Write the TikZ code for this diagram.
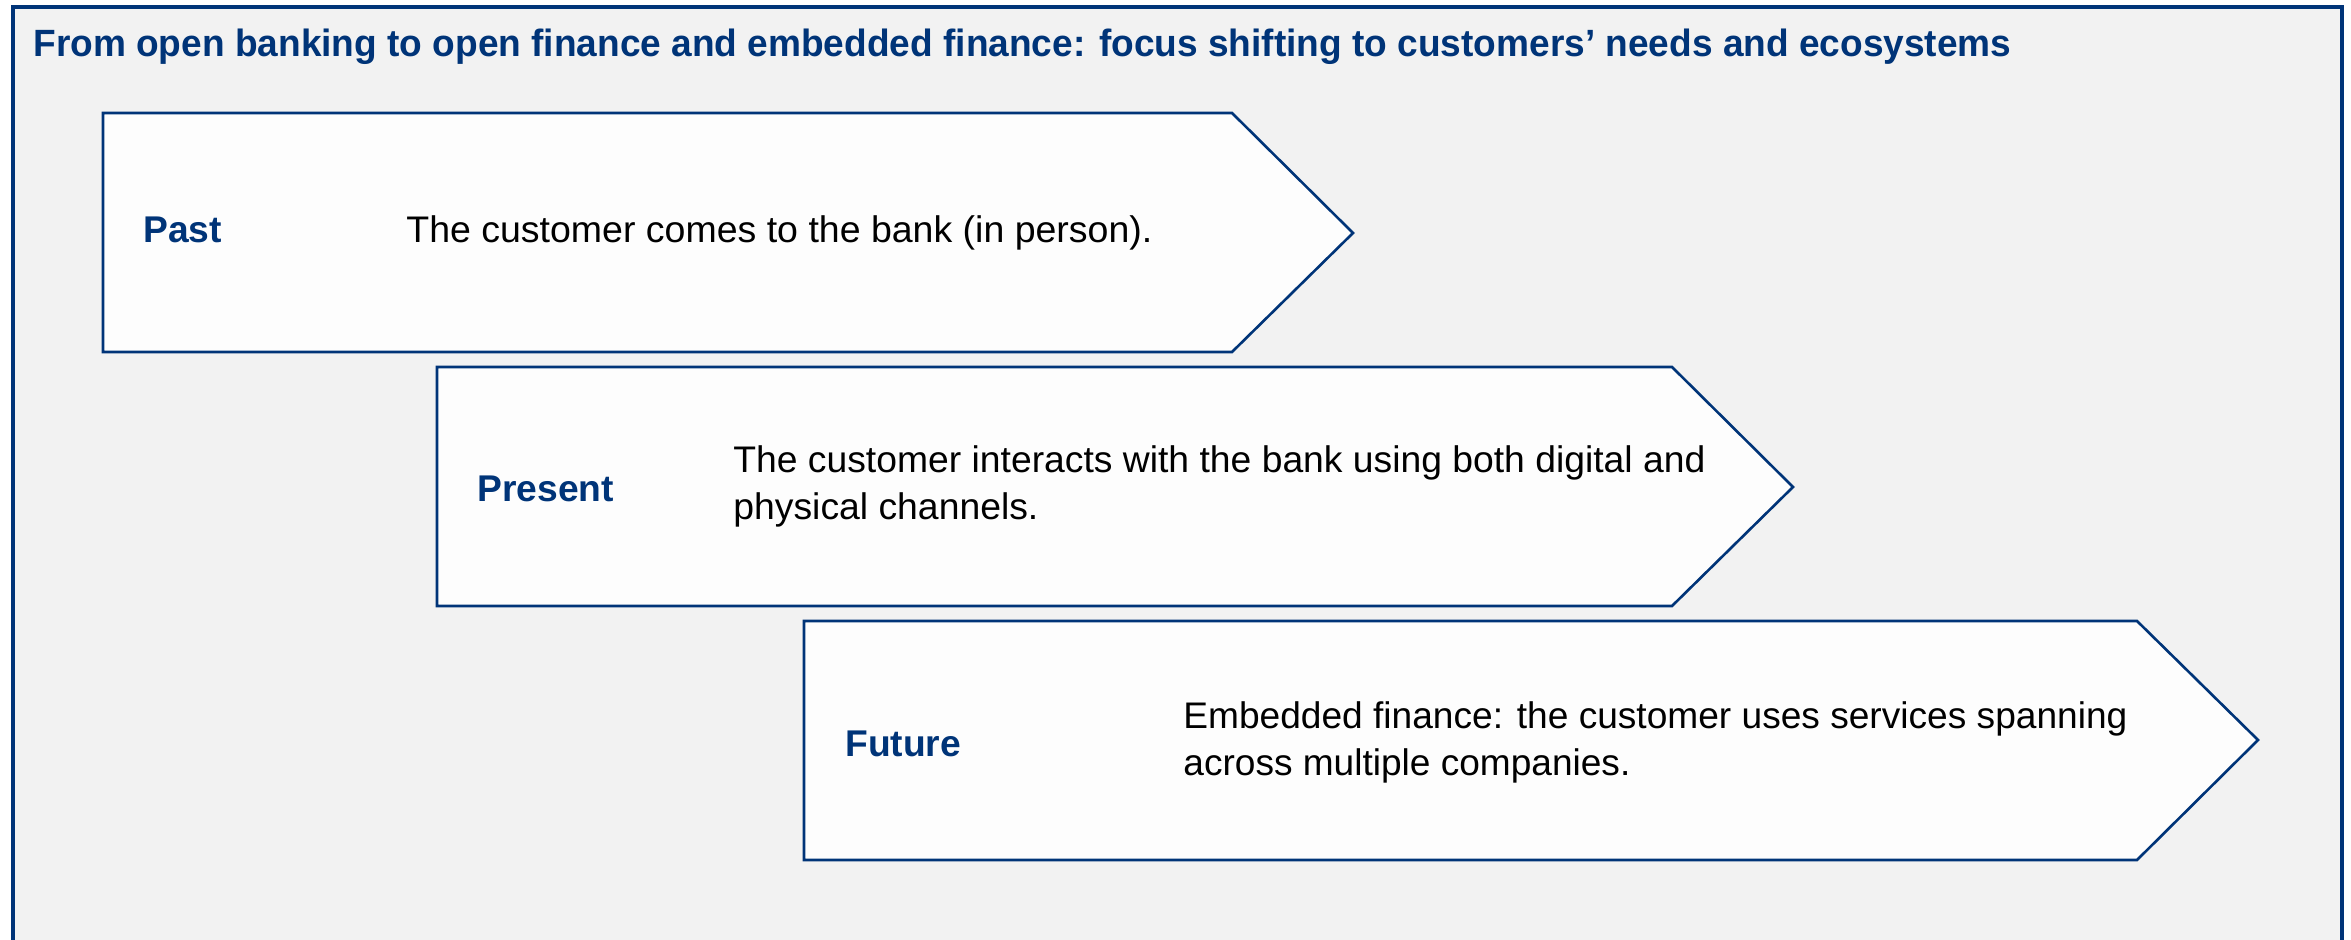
\documentclass[tikz,border=0pt]{standalone}
\usepackage{fontspec}
\setmainfont{Liberation Sans}
\usepackage{graphicx}
\definecolor{navy}{RGB}{0,52,120}
\definecolor{bgray}{RGB}{242,242,242}
\definecolor{chevfill}{RGB}{253,253,253}
\newcommand{\fitw}[2]{\resizebox{#1}{\height}{#2}}
\begin{document}
\begin{tikzpicture}[x=0.5pt,y=-0.5pt,
  chev/.style={draw=navy, line width=1.3pt, fill=chevfill, line join=miter},
  titletext/.style={anchor=base west, inner sep=0pt, text=navy, font=\fontsize{19pt}{22pt}\selectfont\bfseries},
  lbl/.style={anchor=base west, inner sep=0pt, text=navy, font=\fontsize{18.6pt}{22pt}\selectfont\bfseries},
  body/.style={anchor=base west, inner sep=0pt, text=black, font=\fontsize{18.5pt}{21pt}\selectfont}]
\useasboundingbox (0,0) rectangle (2351,940);
\fill[white] (0,0) rectangle (2351,940);
\begin{scope}
  \clip (0,0) rectangle (2351,940);
  \draw[navy, line width=1.8pt, fill=bgray] (13,7) rectangle (2342,990);
\end{scope}

\node[titletext] (title) at (33,57) {\fitw{989pt}{From open banking to open finance and embedded finance: focus shifting to customers’ needs and ecosystems}};

% Past
\draw[chev] (103,113) coordinate (pastNW) -- (1232,113) -- (1353,233) coordinate (pastTip) -- (1232,352) -- (103,352) -- cycle;
\node[lbl] (pastlbl) at (143,243) {Past};
\node[body] (pasttxt) at (406,243) {\fitw{373pt}{The customer comes to the bank (in person).}};

% Present
\draw[chev] (437,367) coordinate (presNW) -- (1672,367) -- (1793,487) coordinate (presTip) -- (1672,606) -- (437,606) -- cycle;
\node[lbl] (preslbl) at (477,502) {Present};
\node[body] (prestxtA) at (733,473) {\fitw{486pt}{The customer interacts with the bank using both digital and}};
\node[body] (prestxtB) at (733,520) {\fitw{152.5pt}{physical channels.}};

% Future
\draw[chev] (804,621) coordinate (futNW) -- (2137,621) -- (2258,740) coordinate (futTip) -- (2137,860) -- (804,860) -- cycle;
\node[lbl] (futlbl) at (845,756) {Future};
\node[body] (futtxtA) at (1183,728) {\fitw{472pt}{Embedded finance: the customer uses services spanning}};
\node[body] (futtxtB) at (1183,775) {\fitw{223.5pt}{across multiple companies.}};
\end{tikzpicture}
\end{document}
